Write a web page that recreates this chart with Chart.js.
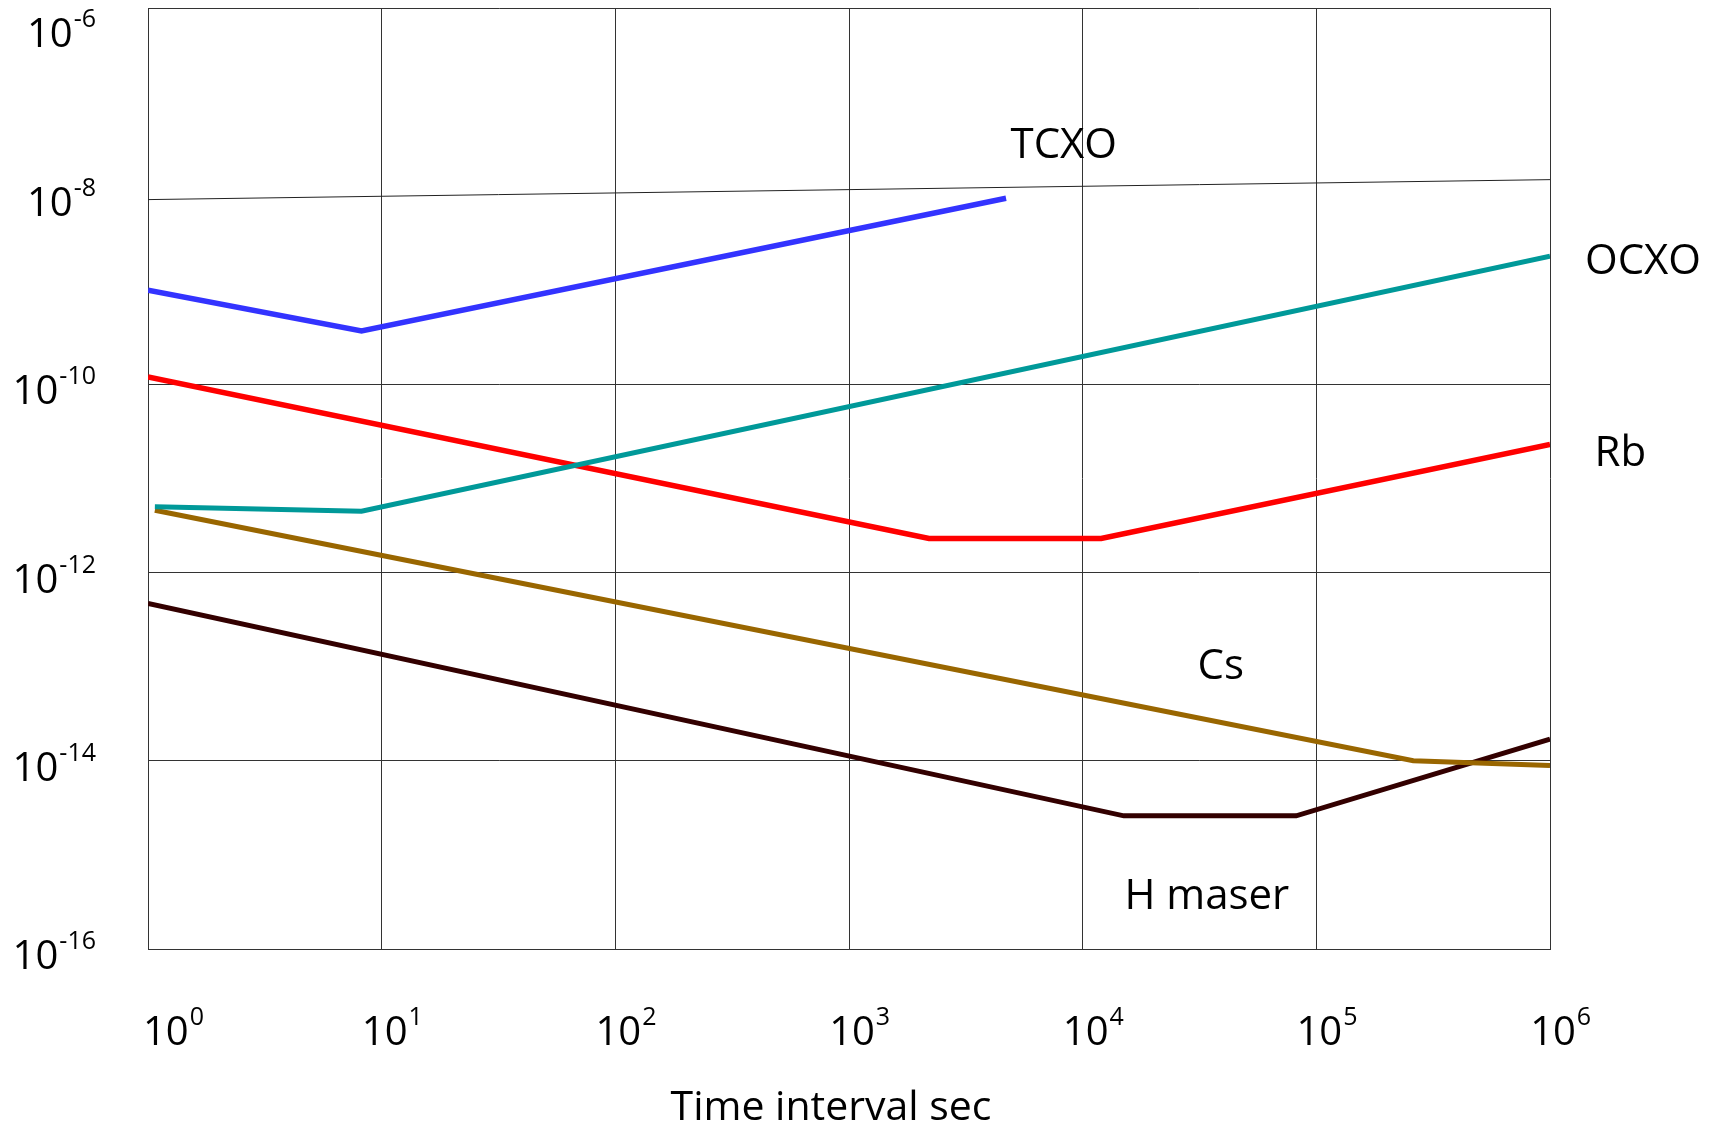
<!DOCTYPE html>
<html>
<head>
<meta charset="utf-8">
<script src="https://cdn.jsdelivr.net/npm/chart.js@4.4.1/dist/chart.umd.min.js"></script>
<style>
  html, body { margin: 0; padding: 0; background: #fff; }
  canvas { display: block; }
</style>
</head>
<body>
<canvas id="stability-chart" width="1722" height="1130"></canvas>
<script>
// tick decades
const xTickExps = [0, 1, 2, 3, 4, 5, 6];
const yTickExps = [-16, -14, -12, -10, -8, -6];

// curves (tau in s, stability)
const tcxoX = [1, 8.2, 4700];
const tcxoY = [1.0e-9, 3.7e-10, 9.5e-9];

const ocxoX = [1.07, 8.2, 1e6];
const ocxoY = [5.0e-12, 4.5e-12, 2.3e-9];

const rbX = [1, 2200, 12000, 1e6];
const rbY = [1.2e-10, 2.3e-12, 2.3e-12, 2.3e-11];

const csX = [1.07, 2.6e5, 1e6];
const csY = [4.6e-12, 1.0e-14, 8.9e-15];

const maserX = [1, 15000, 82000, 1e6];
const maserY = [4.7e-13, 2.6e-15, 2.6e-15, 1.7e-14];

// thin slanted line near 1e-8
const refX = [1, 1e6];
const refY = [9.2e-9, 1.5e-8];

// curve names and where they sit
const noteText = ["TCXO", "OCXO", "Rb", "Cs", "H maser"];
const noteX = [8300, 2.5e6, 2.0e6, 3.9e4, 3.4e4];
const noteY = [3.4e-8, 2.0e-9, 1.8e-11, 1.0e-13, 3.6e-16];

const FONT = "'Open Sans', 'Noto Sans', sans-serif";
const pts = (xs, ys) => xs.map((x, i) => ({ x: x, y: ys[i] }));

function line(data, color, width) {
  return {
    data: data,
    borderColor: color,
    borderWidth: width,
    pointRadius: 0,
    tension: 0,
    borderJoinStyle: "miter",
    borderCapStyle: "butt",
    fill: false,
  };
}

// draws "10" with a raised exponent
function drawPow(ctx, x, base, exp, align) {
  const big = "40px " + FONT, small = "25px " + FONT;
  ctx.font = big;
  const w10 = ctx.measureText("10").width;
  ctx.font = small;
  const e = String(exp);
  const we = ctx.measureText(e).width;
  let left;
  if (align === "center") left = Math.max(x - w10 / 2, 143);
  else left = x - w10 - we - 1;
  ctx.textAlign = "left";
  ctx.textBaseline = "alphabetic";
  ctx.font = big;
  ctx.fillText("10", left, base);
  ctx.font = small;
  ctx.fillText(e, left + w10 + 1, base - 20);
}

const textPlugin = {
  id: "textPlugin",
  afterDraw(chart) {
    const { ctx, scales: { x, y } } = chart;
    ctx.save();
    ctx.fillStyle = "#000";
    x.ticks.forEach((t) => {
      drawPow(ctx, x.getPixelForValue(t.value) + 3, 1045, Math.round(Math.log10(t.value)), "center");
    });
    y.ticks.forEach((t) => {
      const py = y.getPixelForValue(t.value);
      drawPow(ctx, 96, Math.max(py + 20, 47), Math.round(Math.log10(t.value)), "right");
    });
    ctx.font = "41px " + FONT;
    ctx.textAlign = "center";
    ctx.textBaseline = "alphabetic";
    ctx.fillText("Time interval sec", 831, 1120);
    ctx.font = "42px " + FONT;
    ctx.textBaseline = "middle";
    noteText.forEach((s, i) => {
      ctx.fillText(s, x.getPixelForValue(noteX[i]), y.getPixelForValue(noteY[i]));
    });
    ctx.restore();
  },
};

const gridColor = "#333";

new Chart(document.getElementById("stability-chart"), {
  type: "line",
  data: {
    datasets: [
      line(pts(refX, refY), "#222", 1),
      line(pts(tcxoX, tcxoY), "#3333ff", 5.5),
      line(pts(ocxoX, ocxoY), "#009999", 5),
      line(pts(rbX, rbY), "#ff0000", 5.5),
      line(pts(csX, csY), "#996600", 5),
      line(pts(maserX, maserY), "#330000", 5),
    ],
  },
  options: {
    responsive: false,
    animation: false,
    layout: { padding: { top: 8, right: 172, left: 0, bottom: 0 } },
    plugins: { legend: { display: false }, tooltip: { enabled: false } },
    scales: {
      x: {
        type: "logarithmic",
        min: 1,
        max: 1e6,
        afterBuildTicks: (s) => { s.ticks = xTickExps.map((e) => ({ value: Math.pow(10, e) })); },
        afterFit: (s) => { s.height = 181; },
        ticks: { display: false },
        grid: { color: gridColor, lineWidth: 1, drawTicks: false },
        border: { color: gridColor },
      },
      y: {
        type: "logarithmic",
        min: 1e-16,
        max: 1e-6,
        afterBuildTicks: (s) => { s.ticks = yTickExps.map((e) => ({ value: Math.pow(10, e) })); },
        afterFit: (s) => { s.width = 148; },
        ticks: { display: false },
        grid: {
          // the 1e-8 level is drawn by the slanted line instead
          color: (c) => (c.tick && Math.round(Math.log10(c.tick.value)) === -8 ? "rgba(0,0,0,0)" : gridColor),
          lineWidth: 1,
          drawTicks: false,
        },
        border: { color: gridColor },
      },
    },
  },
  plugins: [textPlugin],
});
</script>
</body>
</html>
